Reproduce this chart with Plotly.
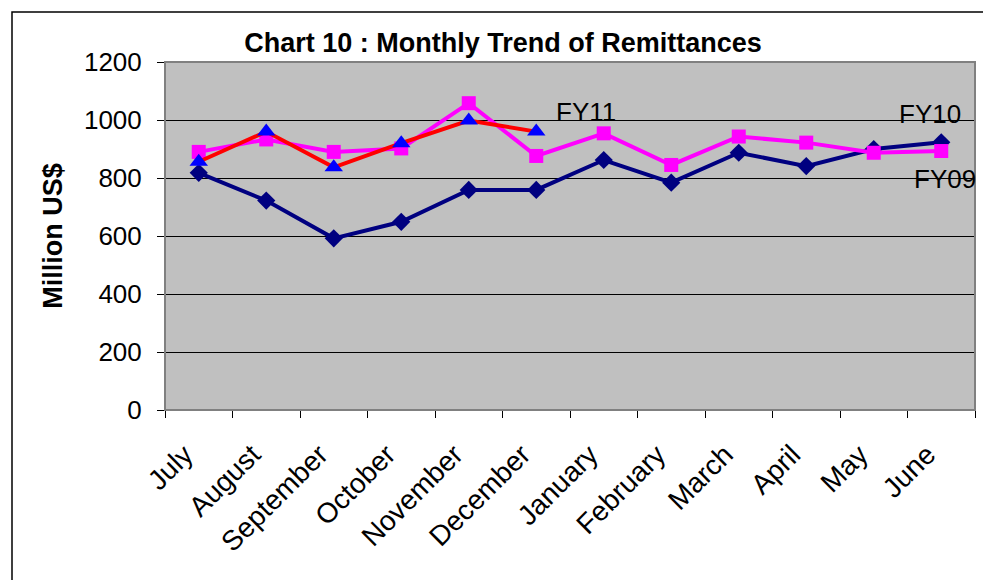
import plotly.graph_objects as go

months = ["July", "August", "September", "October", "November", "December",
          "January", "February", "March", "April", "May", "June"]
fy09 = [818, 722, 592, 649, 759, 759, 862, 784, 887, 841, 900, 923]
fy10 = [890, 933, 890, 902, 1058, 876, 954, 845, 943, 922, 887, 893]
fy11 = [856, 960, 837, 920, 998, 960]
y_ticks = [0, 200, 400, 600, 800, 1000, 1200]

FONT = "Liberation Sans, Arial, sans-serif"

# page body has an 8px margin; the figure is sized and placed to compensate
W, H = 983, 572
L, R, T, B = 157, 16, 54, 170
PW, PH = W - L - R, H - T - B

fig = go.Figure()
fig.add_trace(go.Scatter(x=months, y=fy09, name="FY09", mode="lines+markers",
                         line=dict(color="#000080", width=4),
                         marker=dict(symbol="diamond", size=14, color="#000080")))
fig.add_trace(go.Scatter(x=months, y=fy10, name="FY10", mode="lines+markers",
                         line=dict(color="#FF00FF", width=4),
                         marker=dict(symbol="square", size=14, color="#FF00FF")))
fig.add_trace(go.Scatter(x=months[:len(fy11)], y=fy11, name="FY11", mode="lines+markers",
                         line=dict(color="#FF0000", width=4),
                         marker=dict(symbol="triangle-up", size=16, color="#0000FF")))

annots = [("FY11", 5.73, 1028), ("FY10", 10.83, 1022), ("FY09", 11.05, 798)]
annotations = [dict(text=t, x=x, y=y, xref="x", yref="y", showarrow=False,
                    font=dict(family=FONT, size=26, color="black"))
               for t, x, y in annots]

fig.update_layout(
    width=W, height=H,
    margin=dict(l=L, r=R, t=T, b=B, autoexpand=False),
    paper_bgcolor="white", plot_bgcolor="#C0C0C0",
    showlegend=False,
    title=dict(text="<b>Chart 10 : Monthly Trend of Remittances</b>",
               x=495 / W, xanchor="center", y=1 - 35 / H, yanchor="middle",
               font=dict(family=FONT, size=27, color="black")),
    annotations=annotations,
    shapes=[dict(type="rect", xref="paper", yref="paper",
                 x0=(4 - L) / PW, x1=(W + 20 - L) / PW,
                 y0=-(B + 20) / PH, y1=1 + (T - 4) / PH,
                 line=dict(color="black", width=1.5), fillcolor="rgba(0,0,0,0)", layer="below"),
            dict(type="rect", xref="paper", yref="paper", x0=0, x1=1, y0=0, y1=1,
                 line=dict(color="#808080", width=2), fillcolor="rgba(0,0,0,0)")],
)
fig.update_xaxes(type="category", range=[-0.5, 11.5], tickson="boundaries",
                 ticks="outside", ticklen=7, tickcolor="black", tickangle=-45,
                 showline=True, linecolor="black", linewidth=1, showgrid=False,
                 automargin=False, ticklabelstandoff=16, ticklabelshift=-14,
                 tickfont=dict(family=FONT, size=28, color="black"))
fig.update_yaxes(range=[0, 1200], tickvals=y_ticks, ticks="outside", ticklen=7,
                 tickcolor="black", showline=True, linecolor="black", linewidth=1,
                 showgrid=True, gridcolor="black", gridwidth=1, zeroline=False,
                 automargin=False, ticklabelstandoff=10,
                 tickfont=dict(family=FONT, size=26, color="black"),
                 title=dict(text="<b>Million US$</b>", standoff=13,
                            font=dict(family=FONT, size=27, color="black")))

fig.write_html("out.html")
